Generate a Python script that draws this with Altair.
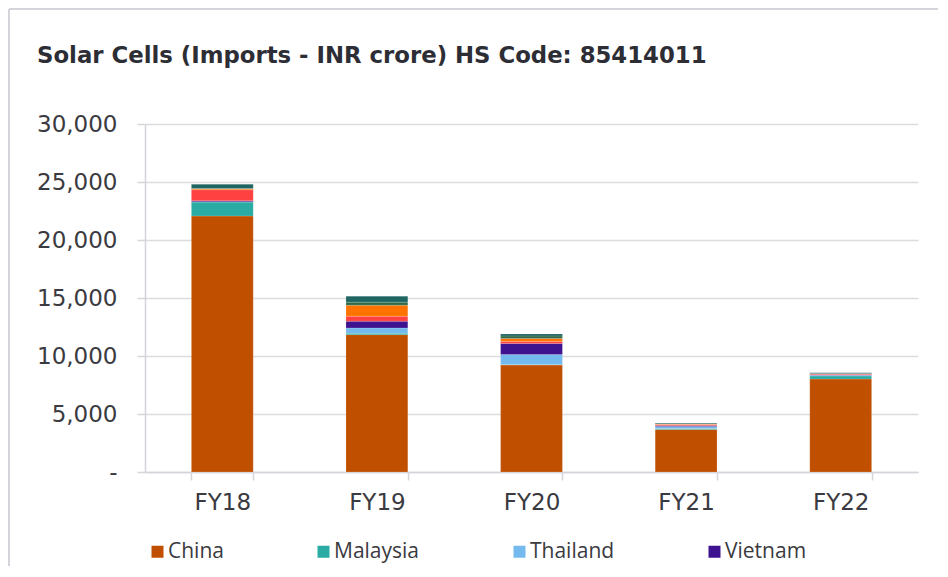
import altair as alt
import pandas as pd

years = ["FY18", "FY19", "FY20", "FY21", "FY22"]
countries = ["China", "Malaysia", "Thailand", "Vietnam", "Singapore", "Hong Kong", "Taiwan", "Others"]
colors = ["#C05000", "#2AABA4", "#75BAEE", "#3E1390", "#FF4141", "#FF7300", "#2E6B45", "#1F6663"]
legend_shown = ["China", "Malaysia", "Thailand", "Vietnam"]

china     = [22070, 11840, 9220, 3660, 8020]
malaysia  = [1200, 120, 50, 90, 260]
thailand  = [20, 460, 860, 170, 50]
vietnam   = [90, 580, 950, 90, 50]
singapore = [950, 430, 170, 90, 60]
hongkong  = [90, 950, 260, 30, 30]
taiwan    = [20, 260, 220, 30, 30]
others    = [370, 520, 170, 70, 60]

series = [china, malaysia, thailand, vietnam, singapore, hongkong, taiwan, others]
rows = []
for i, (c, vals) in enumerate(zip(countries, series)):
    for y, v in zip(years, vals):
        rows.append({"year": y, "country": c, "value": v, "idx": i})
df = pd.DataFrame(rows)

W, H = 773, 348
PAD = {"left": 137, "top": 116, "right": 20, "bottom": 94}

bars = alt.Chart(df).mark_bar(stroke="white", strokeWidth=0.4, strokeOpacity=0.4).encode(
    x=alt.X("year:N", sort=years, title=None,
            scale=alt.Scale(paddingInner=0.6, paddingOuter=0.3),
            axis=alt.Axis(labelAngle=0, labelFontSize=23, labelColor="#3a3a40",
                          labelPadding=11, tickBand="extent", tickSize=8,
                          tickColor="#d4d4da", domainColor="#d4d4da", tickWidth=1.5,
                          domainWidth=1.5, labelFont="DejaVu Sans")),
    y=alt.Y("value:Q", title=None, stack="zero",
            scale=alt.Scale(domain=[0, 30000], nice=False),
            axis=alt.Axis(values=[0, 5000, 10000, 15000, 20000, 25000, 30000],
                          labelExpr="datum.value == 0 ? '-' : format(datum.value, ',')",
                          labelFontSize=23, labelColor="#3a3a40", labelPadding=20,
                          tickSize=8, tickColor="#d4d4da", tickWidth=1.5,
                          domainColor="#d4d4da", domainWidth=1.5,
                          gridColor="#dcdce0", gridWidth=1.5, labelFont="DejaVu Sans")),
    color=alt.Color("country:N", sort=countries,
                    scale=alt.Scale(domain=countries, range=colors),
                    legend=alt.Legend(values=legend_shown, title=None, orient="none",
                                      legendX=2, legendY=417, direction="horizontal",
                                      columns=4, columnPadding=89, symbolType="square",
                                      symbolSize=144, symbolStrokeWidth=0,
                                      labelFontSize=21, labelColor="#3a3a40",
                                      labelFont="Open Sans", labelOffset=0, padding=0)),
    order=alt.Order("idx:Q", sort="ascending"),
)

frame_left = alt.Chart(df).mark_rule(color="#d4d4da", strokeWidth=2).encode(
    x=alt.value(-136), y=alt.value(-115), y2=alt.value(H + PAD["bottom"]))
frame_top = alt.Chart(df).mark_rule(color="#d4d4da", strokeWidth=2).encode(
    x=alt.value(-136), x2=alt.value(W + PAD["right"]), y=alt.value(-115))

chart = alt.layer(bars, frame_left, frame_top).properties(
    width=W, height=H,
    autosize=alt.AutoSizeParams(type="none"),
    padding=PAD,
    title=alt.TitleParams("Solar Cells (Imports - INR crore) HS Code: 85414011",
                          anchor="start", fontSize=22.8, fontWeight="bold",
                          color="#2d2d35", font="DejaVu Sans", dx=-108,
                          offset=0, dy=60, frame="group"),
).configure_view(stroke=None)

chart.save("out.html", embed_options={"renderer": "svg", "actions": False})
